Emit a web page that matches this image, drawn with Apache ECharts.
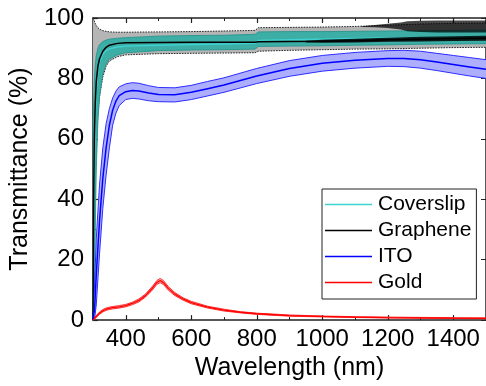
<!DOCTYPE html>
<html><head><meta charset="utf-8">
<script src="https://cdn.jsdelivr.net/npm/echarts@6/dist/echarts.min.js"></script>
<style>html,body{margin:0;padding:0;background:#fff}#c{width:486px;height:386px}</style>
</head><body><div id="c"></div>
<script>
// ---- data ----
const xTickLabels = [400, 600, 800, 1000, 1200, 1400];
const xMinorTicks = [300, 500, 700, 900, 1100, 1300, 1500];
const yTicks = [0, 20, 40, 60, 80, 100];

// Graphene (black) and its gray band
const grWl    = [300, 302, 304, 307, 310, 315, 320, 330, 340, 350, 375, 400, 500, 600, 700, 795, 805, 900, 1000, 1100, 1200, 1300, 1400, 1500];
const grMean  = [0, 40, 60, 72, 79, 84, 86.5, 89, 90.3, 91, 91.6, 91.8, 91.9, 92, 92, 92, 92.1, 92.2, 92.3, 92.5, 92.8, 93, 93.2, 93.3];
const grUpper = [100, 99.6, 99, 98.2, 97.5, 96.8, 96.3, 95.8, 95.6, 95.4, 95.3, 95.3, 95.4, 95.5, 95.7, 95.9, 96.8, 96.9, 97, 97.2, 97.6, 98, 98.2, 98.3];
const grLower = [0, 12, 28, 45, 57, 68, 74, 80.5, 84, 85.8, 87.2, 87.8, 88.2, 88.3, 88.4, 88.5, 89, 89.3, 89.5, 89.7, 89.8, 90, 90.2, 90.3];
// envelope of the noisy graphene signal at long wavelengths (upper edge, mean line)
const grNoiseWl = [1120, 1160, 1200, 1240, 1260, 1300, 1350, 1400, 1450, 1500];
const grNoiseHi = [97.3, 97.7, 98.1, 98.5, 98.9, 99.1, 99.2, 99.2, 99.2, 99.2];
const grNoiseLo = [97.0, 96.9, 96.7, 96.2, 95.6, 95.4, 95.2, 95.2, 95.2, 95.2];
const grMeanNoiseWl = [950, 1000, 1100, 1200, 1300, 1400, 1500];
const grMeanNoiseHi = [92.5, 92.8, 93.1, 93.5, 93.8, 94.0, 94.1];
const grMeanNoiseLo = [91.9, 91.8, 91.9, 92.1, 92.2, 92.4, 92.5];

// Coverslip (cyan) and its teal band
const cvWl    = [300, 302, 304, 307, 310, 315, 320, 330, 340, 350, 375, 400, 500, 600, 700, 795, 805, 900, 1000, 1100, 1200, 1300, 1400, 1500];
const cvMean  = [0, 30, 52, 68, 76, 82.5, 85.5, 88, 89.2, 89.8, 90.4, 90.7, 91, 91.2, 91.4, 91.6, 92.6, 92.8, 93, 93.2, 93.4, 93.6, 93.7, 93.8];
const cvUpper = [60, 72, 79, 84.5, 87.5, 90, 91.2, 92.2, 92.7, 93, 93.3, 93.5, 94, 94.2, 94.3, 94.6, 95.4, 95.5, 95.5, 95.6, 95.7, 95.8, 95.9, 96];
const cvLower = [0, 2, 10, 30, 50, 66, 74, 81.5, 84.8, 86.4, 87.8, 88.5, 89.2, 89.4, 89.5, 89.7, 90.6, 90.7, 90.8, 91, 91.1, 91.3, 91.4, 91.5];

// ITO (blue) and its band
const itoWl    = [300, 305, 310, 320, 330, 340, 350, 360, 370, 380, 400, 420, 440, 470, 500, 550, 600, 650, 700, 800, 900, 1000, 1100, 1200, 1250, 1300, 1350, 1400, 1450, 1500];
const itoMean  = [0, 4, 15, 33, 47, 57, 64.5, 69.5, 72.5, 74.3, 75.6, 76, 75.8, 75.2, 74.7, 74.6, 75.4, 76.6, 77.8, 80.8, 83.3, 85, 86, 86.6, 86.6, 86.2, 85.4, 84.6, 83.8, 83];
const itoUpper = [2, 12, 27, 45, 57, 65, 70, 73.5, 75.8, 77.2, 78.2, 78.6, 78.4, 77.6, 77, 76.9, 77.7, 79, 80.2, 83.3, 85.9, 87.6, 88.6, 89.2, 89.3, 89, 88.3, 87.6, 86.9, 86.2];
const itoLower = [0, 0.5, 5, 22, 37, 48, 57, 64.5, 68.5, 71, 73, 73.4, 73.2, 72.6, 72.3, 72.2, 73, 74.2, 75.4, 78.3, 80.7, 82.4, 83.4, 84, 83.9, 83.4, 82.6, 81.7, 80.8, 80];

// Gold (red) and its band
const auWl    = [300, 310, 320, 330, 340, 350, 360, 380, 400, 420, 440, 460, 480, 495, 505, 515, 530, 550, 575, 600, 650, 700, 750, 800, 900, 1000, 1100, 1200, 1300, 1400, 1500];
const auMean  = [0, 1.2, 2.3, 3.1, 3.6, 3.9, 4.1, 4.4, 4.8, 5.5, 6.5, 8.1, 10.4, 12.4, 13.1, 12.4, 10.5, 8.6, 7, 5.8, 4.3, 3.3, 2.6, 2.1, 1.5, 1.2, 1.0, 0.85, 0.75, 0.65, 0.6];
const auUpper = [0.2, 1.5, 2.7, 3.5, 4, 4.3, 4.5, 4.8, 5.2, 5.9, 7, 8.6, 11, 13.1, 13.8, 13.1, 11.1, 9.1, 7.4, 6.2, 4.6, 3.6, 2.8, 2.3, 1.7, 1.35, 1.15, 1.0, 0.9, 0.8, 0.75];
const auLower = [0, 0.9, 1.9, 2.7, 3.2, 3.5, 3.7, 4, 4.4, 5.1, 6, 7.6, 9.8, 11.8, 12.4, 11.8, 9.9, 8.1, 6.6, 5.4, 4, 3, 2.4, 1.9, 1.3, 1.05, 0.85, 0.7, 0.6, 0.5, 0.45];

// ---- chart ----
const FONT = 'Liberation Sans, Arial, sans-serif';
const pairs = (xs, ys) => xs.map((x, i) => [x, ys[i]]);

function band(name, xs, lo, hi, fill, edge, edgeDash, z, edgeWidth) {
  return {
    name: name, type: 'custom', coordinateSystem: 'cartesian2d', z: z, silent: true,
    data: [[900, 50]],
    renderItem: function (params, api) {
      const up = xs.map((x, i) => api.coord([x, hi[i]]));
      const dn = xs.map((x, i) => api.coord([x, lo[i]]));
      const poly = up.concat(dn.slice().reverse());
      const children = [{ type: 'polygon', shape: { points: poly }, style: { fill: fill, stroke: null } }];
      if (edge) {
        const edgeStyle = { fill: null, stroke: edge, lineWidth: edgeWidth || 0.9, lineDash: edgeDash };
        children.push({ type: 'polyline', shape: { points: up }, style: edgeStyle });
        children.push({ type: 'polyline', shape: { points: dn }, style: edgeStyle });
      }
      return { type: 'group', children: children };
    }
  };
}
function line(name, xs, ys, color, width, z) {
  return { name: name, type: 'line', data: pairs(xs, ys), symbol: 'none', showSymbol: false,
    lineStyle: { color: color, width: width }, itemStyle: { color: color }, z: z, silent: true };
}

const axisLineStyle = { color: '#222', width: 1.5 };
const tickFont = { fontSize: 24, color: '#000', fontFamily: FONT };
const chart = echarts.init(document.getElementById('c'), null, { renderer: 'canvas' });
chart.setOption({
  animation: false,
  backgroundColor: '#fff',
  grid: { left: 93, top: 18, right: -4, bottom: 64, containLabel: false },
  xAxis: [
    { type: 'value', position: 'bottom', min: 300, max: 1500,
      axisLine: { show: true, lineStyle: axisLineStyle },
      axisTick: { show: true, inside: true, length: 5, customValues: xTickLabels, lineStyle: { color: '#222', width: 1.2 } },
      axisLabel: Object.assign({ show: true, customValues: xTickLabels, margin: 7,
        formatter: function (v) { return String(v); } }, tickFont),
      splitLine: { show: false },
      name: 'Wavelength (nm)', nameLocation: 'middle', nameGap: 34,
      nameTextStyle: { fontSize: 25, color: '#000', fontFamily: FONT } },
    { type: 'value', position: 'bottom', min: 300, max: 1500,
      axisLine: { show: false },
      axisTick: { show: true, inside: true, length: 3, customValues: xMinorTicks, lineStyle: { color: '#222', width: 1 } },
      axisLabel: { show: false }, splitLine: { show: false } },
    { type: 'value', position: 'top', min: 300, max: 1500,
      axisLine: { show: true, lineStyle: axisLineStyle },
      axisTick: { show: true, inside: true, length: 5, customValues: xTickLabels, lineStyle: { color: '#222', width: 1.2 } },
      axisLabel: { show: false }, splitLine: { show: false } },
    { type: 'value', position: 'top', min: 300, max: 1500,
      axisLine: { show: false },
      axisTick: { show: true, inside: true, length: 3, customValues: xMinorTicks, lineStyle: { color: '#222', width: 1 } },
      axisLabel: { show: false }, splitLine: { show: false } }
  ],
  yAxis: [
    { type: 'value', position: 'left', min: 0, max: 100, interval: 20,
      axisLine: { show: true, lineStyle: axisLineStyle },
      axisTick: { show: true, inside: true, length: 5, lineStyle: { color: '#222', width: 1.2 } },
      minorTick: { show: true, splitNumber: 2, length: 3, lineStyle: { color: '#222', width: 1 } },
      axisLabel: Object.assign({ show: true, margin: 9, customValues: yTicks }, tickFont),
      splitLine: { show: false },
      name: 'Transmittance (%)', nameLocation: 'middle', nameGap: 57,
      nameTextStyle: { fontSize: 25, color: '#000', fontFamily: FONT } },
    { type: 'value', position: 'right', min: 0, max: 100, interval: 20,
      axisLine: { show: true, lineStyle: axisLineStyle },
      axisTick: { show: true, inside: true, length: 5 },
      axisLabel: { show: false }, splitLine: { show: false } }
  ],
  legend: {
    orient: 'vertical', left: 322, top: 189,
    padding: [5, 5, 6, 3], itemGap: 5, itemWidth: 47, itemHeight: 1.6, icon: 'rect',
    backgroundColor: '#fff', borderColor: '#222', borderWidth: 1,
    textStyle: { fontSize: 21, color: '#000', fontFamily: FONT, lineHeight: 20, padding: [0, 0, 0, 1] },
    data: ['Coverslip', 'Graphene', 'ITO', 'Gold']
  },
  series: [
    band('grBand', grWl, grLower, grUpper, '#b5b5b5', '#111', [1.6, 1.1], 1),
    band('cvBand', cvWl, cvLower, cvUpper, '#3daea6', '#28958d', null, 2),
    band('grNoise', grNoiseWl, grNoiseLo, grNoiseHi, 'rgba(0,0,0,0.72)', null, null, 3),
    line('Coverslip', cvWl, cvMean, '#3fd2d2', 1.4, 3),
    line('Graphene', grWl, grMean, '#000', 1.5, 4),
    band('grMeanNoise', grMeanNoiseWl, grMeanNoiseLo, grMeanNoiseHi, 'rgba(0,0,0,0.85)', null, null, 4),
    band('itoBand', itoWl, itoLower, itoUpper, '#aeaeff', '#1a1aff', null, 2),
    line('ITO', itoWl, itoMean, '#0000ff', 1.5, 4),
    band('auBand', auWl, auLower, auUpper, '#ffb0b0', '#ff2020', null, 2),
    line('Gold', auWl, auMean, '#ff0000', 1.3, 4)
  ]
});
</script></body></html>
